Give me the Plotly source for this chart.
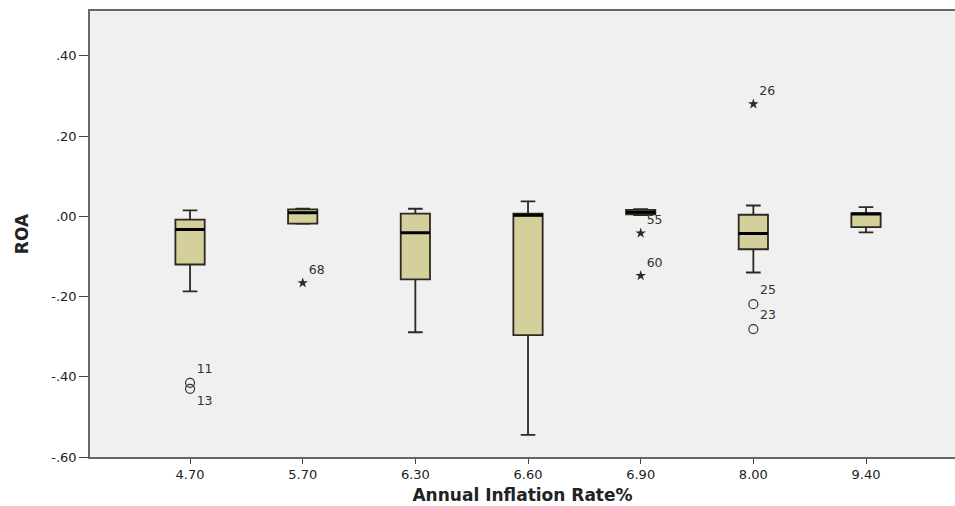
import plotly.graph_objects as go

# Annual inflation rate groups (category axis)
categories = ["4.70", "5.70", "6.30", "6.60", "6.90", "8.00", "9.40"]

# Five-number summaries of ROA per group
upper_whisker = [0.015, 0.019, 0.019, 0.0375, 0.018, 0.027, 0.023]
q3_values = [-0.008, 0.0175, 0.007, 0.007, 0.016, 0.004, 0.008]
median_values = [-0.033, 0.009, -0.041, 0.0025, 0.010, -0.0425, 0.006]
q1_values = [-0.120, -0.018, -0.157, -0.296, 0.005, -0.082, -0.027]
lower_whisker = [-0.187, -0.019, -0.289, -0.545, 0.003, -0.140, -0.040]

# Outliers (circles) and extreme values (stars) with case numbers
outlier_x = ["4.70", "4.70", "8.00", "8.00"]
outlier_y = [-0.415, -0.430, -0.219, -0.281]
outlier_ids = ["11", "13", "25", "23"]
outlier_textpos = ["top right", "bottom right", "top right", "top right"]

extreme_x = ["5.70", "6.90", "6.90", "8.00"]
extreme_y = [-0.166, -0.042, -0.148, 0.280]
extreme_ids = ["68", "55", "60", "26"]

y_tickvals = [-0.6, -0.4, -0.2, 0.0, 0.2, 0.4]
y_ticktext = ["-.60", "-.40", "-.20", ".00", ".20", ".40"]

FONT = "DejaVu Sans"
BOX_FILL = "#d4cf9b"
BOX_LINE = "#2a2922"

fig = go.Figure()

# Boxes with whiskers
fig.add_trace(go.Box(
    x=categories,
    q1=q1_values,
    median=median_values,
    q3=q3_values,
    lowerfence=lower_whisker,
    upperfence=upper_whisker,
    fillcolor=BOX_FILL,
    line=dict(color=BOX_LINE, width=1.8),
    width=0.26,
    whiskerwidth=0.5,
    boxpoints=False,
    hoverinfo="skip",
    showlegend=False,
))

# Heavier median bars drawn over the boxes
fig.add_trace(go.Box(
    x=categories,
    q1=median_values,
    median=median_values,
    q3=median_values,
    lowerfence=median_values,
    upperfence=median_values,
    fillcolor="rgba(0,0,0,0)",
    line=dict(color="#000000", width=3),
    width=0.26,
    whiskerwidth=0,
    boxpoints=False,
    hoverinfo="skip",
    showlegend=False,
))

# Mild outliers: open circles labelled with case number
fig.add_trace(go.Scatter(
    x=outlier_x,
    y=outlier_y,
    mode="markers+text",
    marker=dict(symbol="circle-open", size=9, color="#333333", line=dict(width=1.2)),
    text=outlier_ids,
    textposition=outlier_textpos,
    textfont=dict(family=FONT, size=12.5, color="#333333"),
    hoverinfo="skip",
    showlegend=False,
))

# Extreme values: stars labelled with case number
fig.add_trace(go.Scatter(
    x=extreme_x,
    y=extreme_y,
    mode="markers+text",
    marker=dict(symbol="star", size=8, color="#2a2a2a", line=dict(width=0)),
    text=extreme_ids,
    textposition="top right",
    textfont=dict(family=FONT, size=12.5, color="#333333"),
    hoverinfo="skip",
    showlegend=False,
))

fig.update_layout(
    width=955,
    height=506,
    margin=dict(l=90, r=0, t=11, b=49),
    paper_bgcolor="#ffffff",
    plot_bgcolor="#f0f0f0",
    boxmode="overlay",
    font=dict(family=FONT, color="#222222"),
    xaxis=dict(
        type="category",
        categoryorder="array",
        categoryarray=categories,
        range=[-0.888, 6.79],
        showline=True,
        linecolor="#666666",
        linewidth=1.5,
        mirror=True,
        ticks="outside",
        ticklen=5,
        tickwidth=1.3,
        tickcolor="#444444",
        tickfont=dict(family=FONT, size=13, color="#222222"),
        showgrid=False,
        zeroline=False,
        title=dict(
            text="<b>Annual Inflation Rate%</b>",
            font=dict(family=FONT, size=17, color="#222222"),
            standoff=8,
        ),
    ),
    yaxis=dict(
        range=[-0.6, 0.512],
        tickvals=y_tickvals,
        ticktext=y_ticktext,
        showline=True,
        linecolor="#666666",
        linewidth=1.5,
        ticks="outside",
        ticklen=9,
        tickwidth=1.3,
        tickcolor="#444444",
        tickfont=dict(family=FONT, size=13, color="#222222"),
        showgrid=False,
        zeroline=False,
        title=dict(
            text="<b>ROA</b>",
            font=dict(family=FONT, size=17, color="#222222"),
            standoff=18,
        ),
    ),
)

fig.write_html("out.html")
